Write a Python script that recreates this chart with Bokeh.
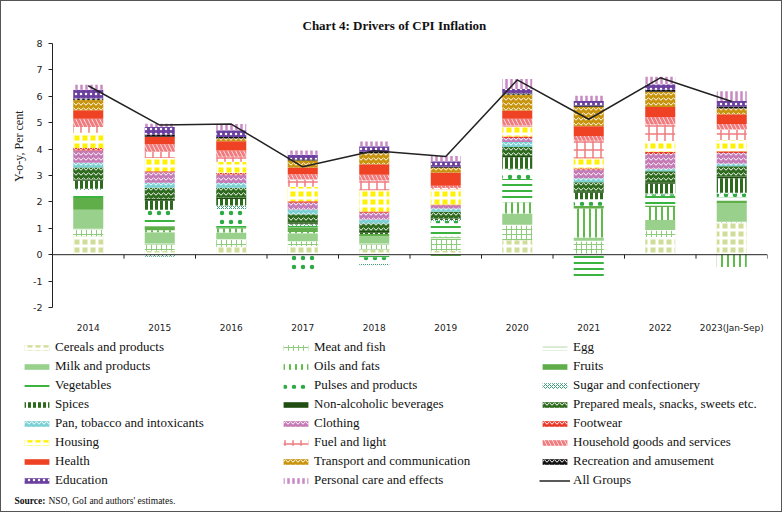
import numpy as np
from bokeh.plotting import figure
from bokeh.layouts import row, column
from bokeh.models import (ColumnDataSource, Legend, LegendItem, Label, Span, FixedTicker)
from bokeh.embed import file_html
from bokeh.resources import INLINE

years = ["2014", "2015", "2016", "2017", "2018", "2019", "2020", "2021", "2022", "2023(Jan-Sep)"]

cereals    = [0.70, 0.15, 0.30, 0.33, 0.20, 0.15, 0.55, 0.05, 0.67, 1.20]
meat_fish  = [0.25, 0.25, 0.27, 0.17, 0.20, 0.45, 0.56, 0.45, 0.25, 0.03]
egg        = [0.03, 0.02, 0.02, 0.01, 0.02, 0.02, 0.02, 0.03, 0.02, 0.02]
milk       = [0.72, 0.43, 0.25, 0.30, 0.28, 0.05, 0.43, 0.12, 0.37, 0.70]
oils_fats  = [0.00, 0.08, 0.15, 0.05, 0.00, 0.02, 0.43, 1.10, 0.50, -0.47]
fruits     = [0.45, 0.15, 0.03, 0.18, 0.08, -0.05, 0.00, 0.10, 0.05, 0.10]
vegetables = [0.20, 0.25, 0.11, 0.05, -0.10, 0.50, 0.88, -0.84, 0.37, 0.12]
pulses     = [0.10, 0.37, 0.60, -0.63, -0.25, 0.10, 0.37, 0.25, 0.06, 0.15]
sugar      = [0.05, -0.08, 0.13, 0.05, -0.05, 0.02, 0.02, 0.00, 0.03, 0.03]
spices     = [0.30, 0.34, 0.25, 0.03, 0.05, 0.05, 0.43, 0.25, 0.37, 0.55]
non_alc    = [0.05, 0.08, 0.06, 0.06, 0.07, 0.02, 0.05, 0.05, 0.05, 0.06]
prepared   = [0.45, 0.42, 0.37, 0.30, 0.28, 0.25, 0.34, 0.34, 0.42, 0.39]
pan        = [0.18, 0.19, 0.18, 0.18, 0.15, 0.12, 0.19, 0.16, 0.10, 0.10]
clothing   = [0.47, 0.39, 0.31, 0.26, 0.26, 0.12, 0.15, 0.32, 0.55, 0.40]
footwear   = [0.09, 0.04, 0.06, 0.05, 0.05, 0.03, 0.06, 0.05, 0.09, 0.07]
housing    = [0.58, 0.50, 0.43, 0.55, 0.80, 0.58, 0.37, 0.37, 0.41, 0.42]
fuel_light = [0.22, 0.24, 0.19, 0.28, 0.37, 0.05, 0.05, 0.68, 0.62, 0.40]
household  = [0.31, 0.28, 0.24, 0.20, 0.22, 0.08, 0.25, 0.18, 0.29, 0.21]
health     = [0.32, 0.29, 0.35, 0.25, 0.40, 0.50, 0.31, 0.37, 0.37, 0.37]
transport  = [0.39, 0.00, 0.10, 0.27, 0.41, 0.18, 0.60, 0.73, 0.58, 0.22]
recreation = [0.06, 0.08, 0.06, 0.05, 0.06, 0.04, 0.06, 0.05, 0.08, 0.07]
education  = [0.33, 0.29, 0.25, 0.17, 0.21, 0.21, 0.16, 0.17, 0.21, 0.21]
personal   = [0.19, 0.12, 0.24, 0.16, 0.18, 0.20, 0.38, 0.20, 0.28, 0.37]
all_groups = [6.40, 4.91, 4.95, 3.33, 3.94, 3.72, 6.62, 5.13, 6.70, 5.80]

y_ticks = [-2, -1, 0, 1, 2, 3, 4, 5, 6, 7, 8]


def S(fill, hatch=None, hc="white", hw=1.0, hs=6.0):
    d = dict(fill_color=fill)
    if hatch:
        d.update(hatch_pattern=hatch, hatch_color=hc, hatch_weight=hw, hatch_scale=hs)
    return d


series = [
    ("Cereals and products", cereals, S("#cfdd98", "+", "white", 3, 8)),
    ("Meat and fish", meat_fish, S("white", "+", "#8ccc7a", 1, 5)),
    ("Egg", egg, S("white", "-", "#b5dcaa", 1, 4)),
    ("Milk and products", milk, S("#98d08c")),
    ("Oils and fats", oils_fats, S("white", "|", "#5fbb4a", 2, 6)),
    ("Fruits", fruits, S("#5fae4a")),
    ("Vegetables", vegetables, S("white", "-", "#3bb33f", 2, 6)),
    ("Pulses and products", pulses, S("white", ".", "#2eaa45", 4, 9)),
    ("Sugar and confectionery", sugar, S("white", "x", "#3c9f78", 1, 4)),
    ("Spices", spices, S("white", "|", "#2d6a1d", 3, 5)),
    ("Non-alcoholic beverages", non_alc, S("#1f4d12")),
    ("Prepared meals, snacks, sweets etc.", prepared, S("#2f6b1f", "v", "white", 1, 5)),
    ("Pan, tobacco and intoxicants", pan, S("#7bd0d4", "v", "white", 1, 5)),
    ("Clothing", clothing, S("#c47bb5", "v", "white", 1, 5)),
    ("Footwear", footwear, S("#e8392a", "v", "white", 1, 5)),
    ("Housing", housing, S("#fff200", "+", "white", 3, 8)),
    ("Fuel and light", fuel_light, S("white", "+", "#f07c80", 1.5, 8)),
    ("Household goods and services", household, S("white", "\\", "#f07c80", 3, 8)),
    ("Health", health, S("#ef4123")),
    ("Transport and communication", transport, S("#c8940e", "v", "white", 1, 5)),
    ("Recreation and amusement", recreation, S("#111111", "v", "white", 1, 5)),
    ("Education", education, S("#6b3fa0", ".", "white", 2, 5)),
    ("Personal care and effects", personal, S("white", "|", "#c98ac4", 2.5, 5)),
]

n = len(years)
centers = np.arange(n) + 0.5

# ---- main chart ----
p = figure(width=753, height=334, x_range=(0, n), y_range=(-2, 8),
           output_backend="svg", toolbar_location=None,
           min_border_left=24, min_border_right=14, min_border_top=42,
           min_border_bottom=22)
p.title.text = "Chart 4: Drivers of CPI Inflation"
p.title.align = "left"
p.title.offset = 250
p.title.text_font = "Liberation Serif"
p.title.text_font_size = "13px"
p.title.text_font_style = "bold"
p.title.text_color = "#111111"
p.title.standoff = 22
p.outline_line_color = None
p.xgrid.visible = False
p.ygrid.visible = False

p.yaxis.ticker = FixedTicker(ticks=y_ticks)
p.yaxis.major_label_overrides = {t: str(t) for t in y_ticks}
p.yaxis.major_tick_out = 4
p.yaxis.major_tick_in = 0
p.yaxis.minor_tick_line_color = None
p.yaxis.major_label_standoff = 6
p.yaxis.major_label_text_font = "DejaVu Sans"
p.yaxis.major_label_text_font_size = "9.5px"
p.yaxis.major_label_text_color = "#222222"
p.yaxis.axis_line_color = "#222222"
p.yaxis.major_tick_line_color = "#222222"

p.xaxis.ticker = FixedTicker(ticks=list(centers))
p.xaxis.major_label_overrides = {float(c): y for c, y in zip(centers, years)}
p.xaxis.axis_line_color = None
p.xaxis.major_tick_line_color = None
p.xaxis.minor_tick_line_color = None
p.xaxis.major_label_standoff = 9
p.xaxis.major_label_text_font = "DejaVu Sans"
p.xaxis.major_label_text_font_size = "9px"
p.xaxis.major_label_text_color = "#222222"

pos = np.zeros(n)
neg = np.zeros(n)
for name, vals, st in series:
    v = np.array(vals, dtype=float)
    bottom = np.where(v >= 0, pos, neg + v)
    top = np.where(v >= 0, pos + v, neg)
    pos = pos + np.clip(v, 0, None)
    neg = neg + np.clip(v, None, 0)
    src = ColumnDataSource(dict(x=centers, bottom=bottom, top=top))
    p.vbar(x="x", bottom="bottom", top="top", width=0.42, source=src,
           line_color=None, **st)

p.add_layout(Span(location=0, dimension="width", line_color="#222222", line_width=1))
bounds = np.arange(n + 1)
p.segment(x0=bounds, y0=np.zeros(n + 1), x1=bounds, y1=np.full(n + 1, -0.15),
          line_color="#222222", line_width=1)
p.line(centers, all_groups, line_color="#222222", line_width=1.5)

# ---- y-axis title strip ----
yl = figure(width=27, height=334, x_range=(0, 27), y_range=(0, 334),
            output_backend="svg", toolbar_location=None,
            min_border=0, x_axis_location=None, y_axis_location=None)
yl.outline_line_color = None
yl.grid.visible = False
yl.add_layout(Label(x=17, y=204, text="Y-o-y, Per cent", angle=np.pi / 2,
                    text_align="center", text_baseline="middle",
                    text_font="Liberation Serif", text_font_size="12px",
                    text_color="#222222"))

# ---- legend area ----
lg = figure(width=780, height=176, x_range=(0, 780), y_range=(0, 176),
            output_backend="svg", toolbar_location=None,
            min_border=0, x_axis_location=None, y_axis_location=None)
lg.outline_line_color = None
lg.grid.visible = False

items = []
for name, vals, st in series:
    r = lg.vbar(x=[0], bottom=[0], top=[0], width=0, line_color=None, **st)
    items.append(LegendItem(label=name, renderers=[r]))
lr = lg.line(x=[0, 0], y=[0, 0], line_color="#222222", line_width=1.5)
items.append(LegendItem(label="All Groups", renderers=[lr]))

col_x = [20, 279, 538]
for c in range(3):
    leg = Legend(items=items[c::3], location=(col_x[c], 23))
    leg.glyph_width = 31
    leg.glyph_height = 7
    leg.label_height = 12
    leg.spacing = 3
    leg.padding = 0
    leg.margin = 0
    leg.label_standoff = 3
    leg.border_line_color = None
    leg.background_fill_alpha = 0
    leg.label_text_font = "Liberation Serif"
    leg.label_text_font_size = "13px"
    leg.label_text_color = "#111111"
    lg.add_layout(leg, "center")

lg.add_layout(Label(x=13, y=11, text="Source:", text_align="left",
                    text_baseline="middle", text_font="Liberation Serif",
                    text_font_style="bold", text_font_size="9.5px",
                    text_color="#111111"))
lg.add_layout(Label(x=47, y=11, text="NSO, GoI and authors' estimates.",
                    text_align="left", text_baseline="middle",
                    text_font="Liberation Serif", text_font_size="9.5px",
                    text_color="#111111"))

layout = column(row(yl, p), lg)
layout.styles = {"border": "1px solid #555555"}

open("out.html", "w").write(file_html(layout, INLINE))
